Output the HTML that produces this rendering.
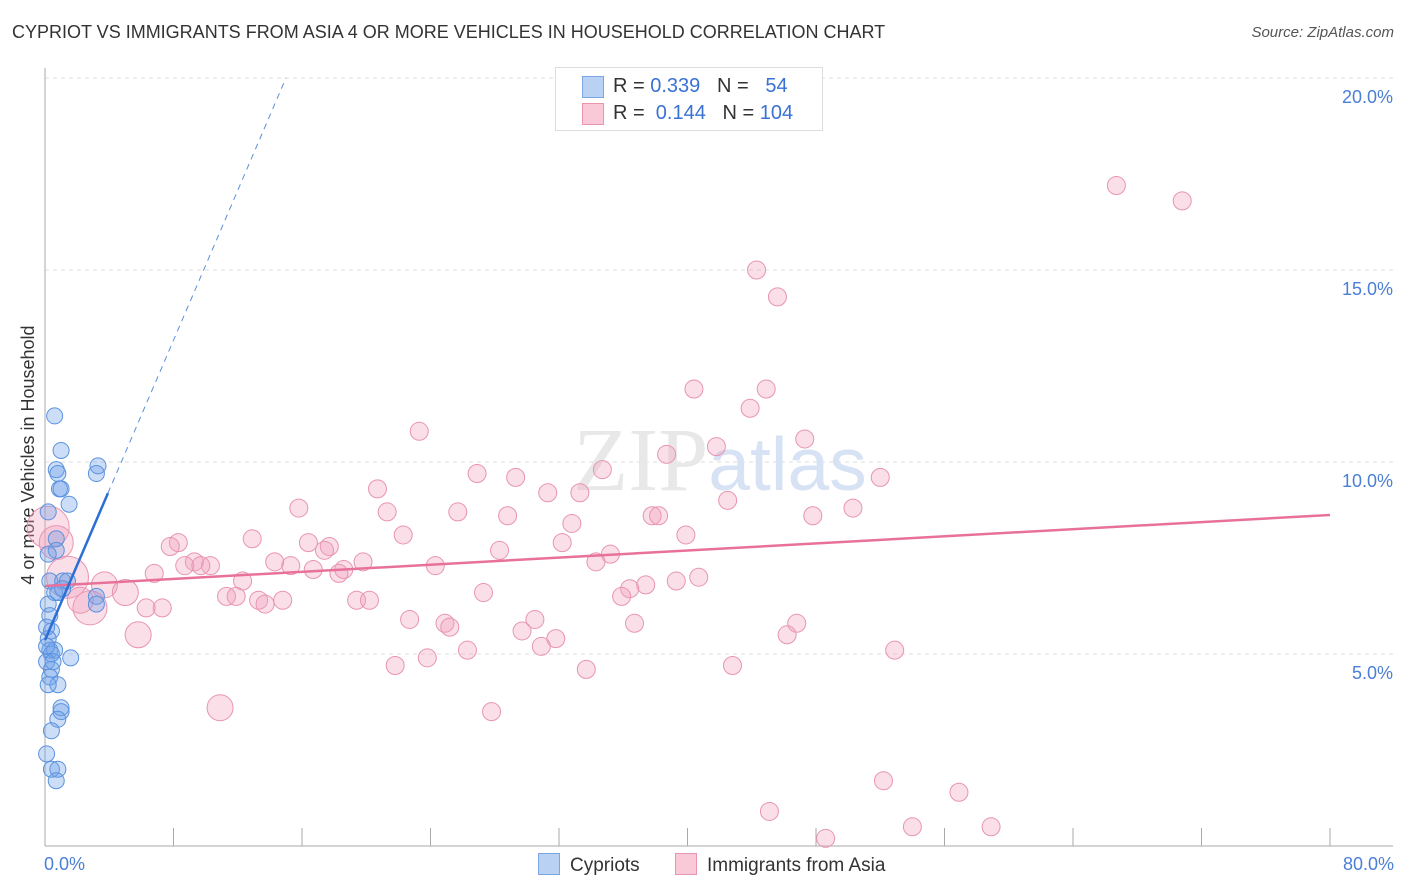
<!DOCTYPE html>
<html><head><meta charset="utf-8">
<style>
body{margin:0;background:#fff;font-family:"Liberation Sans",sans-serif;}
#wrap{position:relative;width:1406px;height:892px;overflow:hidden}
.t{position:absolute;white-space:nowrap}
</style></head>
<body>
<div id="wrap">
<div class="t" style="left:12px;top:22px;font-size:18px;color:#333;">CYPRIOT VS IMMIGRANTS FROM ASIA 4 OR MORE VEHICLES IN HOUSEHOLD CORRELATION CHART</div>
<div class="t" style="right:12px;top:24px;font-size:15px;color:#555;font-style:italic;">Source: ZipAtlas.com</div>
<svg id="plot" width="1406" height="892" style="position:absolute;left:0;top:0"></svg>
</div>
<script>
const xTicks=[0,8,16,24,32,40,48,56,64,72,80];
const yTicks=[5,10,15,20];
const yTickLabels=["5.0%","10.0%","15.0%","20.0%"];
const xEndLabels=["0.0%","80.0%"];
const cypX=[0.6,1.0,0.7,0.8,3.3,3.2,0.9,1.0,1.5,0.2,0.7,0.7,0.2,0.3,1.1,1.4,0.6,0.8,1.1,3.2,3.2,0.2,0.3,0.4,0.2,0.3,0.4,0.6,0.1,1.6,0.4,0.3,0.8,0.2,1.0,1.0,0.8,0.4,0.1,0.4,0.8,0.7,0.1,0.1,0.5];
const cypY=[11.2,10.3,9.8,9.7,9.9,9.7,9.3,9.3,8.9,8.7,8.0,7.7,7.6,6.9,6.9,6.9,6.6,6.6,6.7,6.5,6.3,6.3,6.0,5.6,5.4,5.1,5.0,5.1,4.8,4.9,4.6,4.4,4.2,4.2,3.6,3.5,3.3,3.0,2.4,2.0,2.0,1.7,5.7,5.2,4.8];
const asiaX=[66.7,70.8,44.3,45.6,40.4,44.9,43.9,23.3,47.3,41.8,38.7,34.7,26.9,29.3,52.0,20.7,31.3,33.3,42.5,15.8,50.3,21.3,25.7,28.8,47.8,37.8,38.2,32.8,22.3,39.9,12.9,32.2,8.3,16.4,7.8,17.7,28.3,17.4,35.2,14.3,9.3,19.8,34.3,24.3,10.3,8.7,9.7,15.3,18.6,16.7,18.3,6.8,12.3,39.3,40.7,37.4,36.4,27.3,35.9,11.3,11.9,13.3,13.7,14.8,19.4,20.2,6.3,7.3,30.5,22.7,24.9,46.8,25.2,36.7,29.7,46.2,5.8,31.8,30.9,26.3,52.9,23.8,21.8,42.8,33.7,10.9,27.8,52.2,56.9,45.1,54.0,58.9,48.6,0.2,0.7,1.4,2.8,3.7,5.0,2.2];
const asiaY=[17.2,16.8,15.0,14.3,11.9,11.9,11.4,10.8,10.6,10.4,10.2,9.8,9.7,9.6,9.6,9.3,9.2,9.2,9.0,8.8,8.8,8.7,8.7,8.6,8.6,8.6,8.6,8.4,8.1,8.1,8.0,7.9,7.9,7.9,7.8,7.8,7.7,7.7,7.6,7.4,7.4,7.4,7.4,7.3,7.3,7.3,7.3,7.3,7.2,7.2,7.1,7.1,6.9,6.9,7.0,6.8,6.7,6.6,6.5,6.5,6.5,6.4,6.3,6.4,6.4,6.4,6.2,6.2,5.9,5.9,5.8,5.8,5.7,5.8,5.6,5.5,5.5,5.4,5.2,5.1,5.1,4.9,4.7,4.7,4.6,3.6,3.5,1.7,1.4,0.9,0.5,0.5,0.2,8.3,7.9,7.0,6.2,6.8,6.6,6.4];
const asiaBig=[0,0,0,0,0,0,0,0,0,0,0,0,0,0,0,0,0,0,0,0,0,0,0,0,0,0,0,0,0,0,0,0,0,0,0,0,0,0,0,0,0,0,0,0,0,0,0,0,0,0,0,0,0,0,0,0,0,0,0,0,0,0,0,0,0,0,0,0,0,0,0,0,0,0,0,0,1,0,0,0,0,0,0,0,0,1,0,0,0,0,0,0,0,3,2,3,2,1,1,1];
const cypTrend=[0,5.36,3.92,9.19,15,20.0];
const asiaTrend=[0,6.77,80,8.62];

const svg=document.getElementById('plot');
const NS='http://www.w3.org/2000/svg';
const X=v=>45+v/80*1285;
const Y=v=>846-v*38.4;
function mk(tag,attrs,parent){const e=document.createElementNS(NS,tag);for(const k in attrs)e.setAttribute(k,attrs[k]);(parent||svg).appendChild(e);return e;}

// gridlines & y labels
yTicks.forEach((v,i)=>{
  const g=mk('line',{x1:45,x2:1393,y1:Y(v),y2:Y(v),stroke:'#ddd','stroke-dasharray':'4,4'});
  
  
  const t=mk('text',{x:1393,y:Y(v)+25,'text-anchor':'end','font-size':18,fill:'#4a7fd6','font-family':'Liberation Sans, sans-serif'});
  t.textContent=yTickLabels[i];
  
  
});
// axes
const ax=mk('line',{x1:45,x2:45,y1:68,y2:846,stroke:'#aaa'});


const bx=mk('line',{x1:45,x2:1393,y1:846,y2:846,stroke:'#aaa'});


xTicks.forEach(v=>{
  const l=mk('line',{x1:X(v),x2:X(v),y1:828,y2:846,stroke:'#aaa'});
  
  
});
[[0,'start',xEndLabels[0]],[80,'end',xEndLabels[1]]].forEach(([v,a,s])=>{
  const t=mk('text',{x:v==0?X(v)-1:X(v)+64,y:870,'text-anchor':a,'font-size':18,fill:'#4a7fd6','font-family':'Liberation Sans, sans-serif'});
  t.textContent=s;
  
  
});
// watermark
const wm=mk('text',{x:720,y:490,'text-anchor':'middle','font-size':90,fill:'#e8e8e8','font-family':'Liberation Serif, serif'});
wm.innerHTML='ZIP<tspan fill="#d7e3f4" font-family="Liberation Sans, sans-serif" font-size="75">atlas</tspan>';


// y-axis title
const yt=mk('text',{transform:'translate(34,455) rotate(-90)','text-anchor':'middle','font-size':18,fill:'#333','font-family':'Liberation Sans, sans-serif'});
yt.textContent='4 or more Vehicles in Household';


// points
asiaX.forEach((x,i)=>{
  const c=mk('circle',{cx:X(x),cy:Y(asiaY[i]),r:9+asiaBig[i]*4,fill:'rgba(242,160,188,0.35)',stroke:'#e895b1','stroke-width':1});
  
  
});
cypX.forEach((x,i)=>{
  const c=mk('circle',{cx:X(x),cy:Y(cypY[i]),r:8,fill:'rgba(110,160,232,0.35)',stroke:'#5b92de','stroke-width':1});
  
  
});
// trend lines
const at=mk('line',{x1:X(asiaTrend[0]),y1:Y(asiaTrend[1]),x2:X(asiaTrend[2]),y2:Y(asiaTrend[3]),stroke:'#e8719a','stroke-width':2.5});


const ct=mk('line',{x1:X(cypTrend[0]),y1:Y(cypTrend[1]),x2:X(cypTrend[2]),y2:Y(cypTrend[3]),stroke:'#2a6ed6','stroke-width':2.5});


const cd=mk('line',{x1:X(cypTrend[2]),y1:Y(cypTrend[3]),x2:X(cypTrend[4]),y2:Y(cypTrend[5]),stroke:'#5b8fdc','stroke-width':1,'stroke-dasharray':'6,5'});


</script>
<div class="t" style="left:555px;top:67px;width:266px;height:62px;border:1px solid #ddd;background:#fff;font-size:20px;color:#333;">
 <div style="position:absolute;left:26px;top:8px;width:20px;height:20px;background:#b9d2f4;border:1px solid #7aa6e3"></div>
 <div style="position:absolute;left:57px;top:7px">R = <span style="color:#3a72d4">0.339</span>&nbsp;&nbsp;&nbsp;N = &nbsp;&nbsp;<span style="color:#3a72d4">54</span></div>
 <div style="position:absolute;left:26px;top:35px;width:20px;height:20px;background:#f9c9d8;border:1px solid #e895b1"></div>
 <div style="position:absolute;left:57px;top:34px">R = &nbsp;<span style="color:#3a72d4">0.144</span>&nbsp;&nbsp;&nbsp;N = <span style="color:#3a72d4">104</span></div>
</div>
<div class="t" style="left:538px;top:853px;font-size:19px;color:#333;"><span style="display:inline-block;width:20px;height:20px;background:#b9d2f4;border:1px solid #7aa6e3;vertical-align:-4px;margin-right:10px"></span>Cypriots</div>
<div class="t" style="left:675px;top:853px;font-size:19px;color:#333;"><span style="display:inline-block;width:20px;height:20px;background:#f9c9d8;border:1px solid #e895b1;vertical-align:-4px;margin-right:10px"></span>Immigrants from Asia</div>
</body></html>
